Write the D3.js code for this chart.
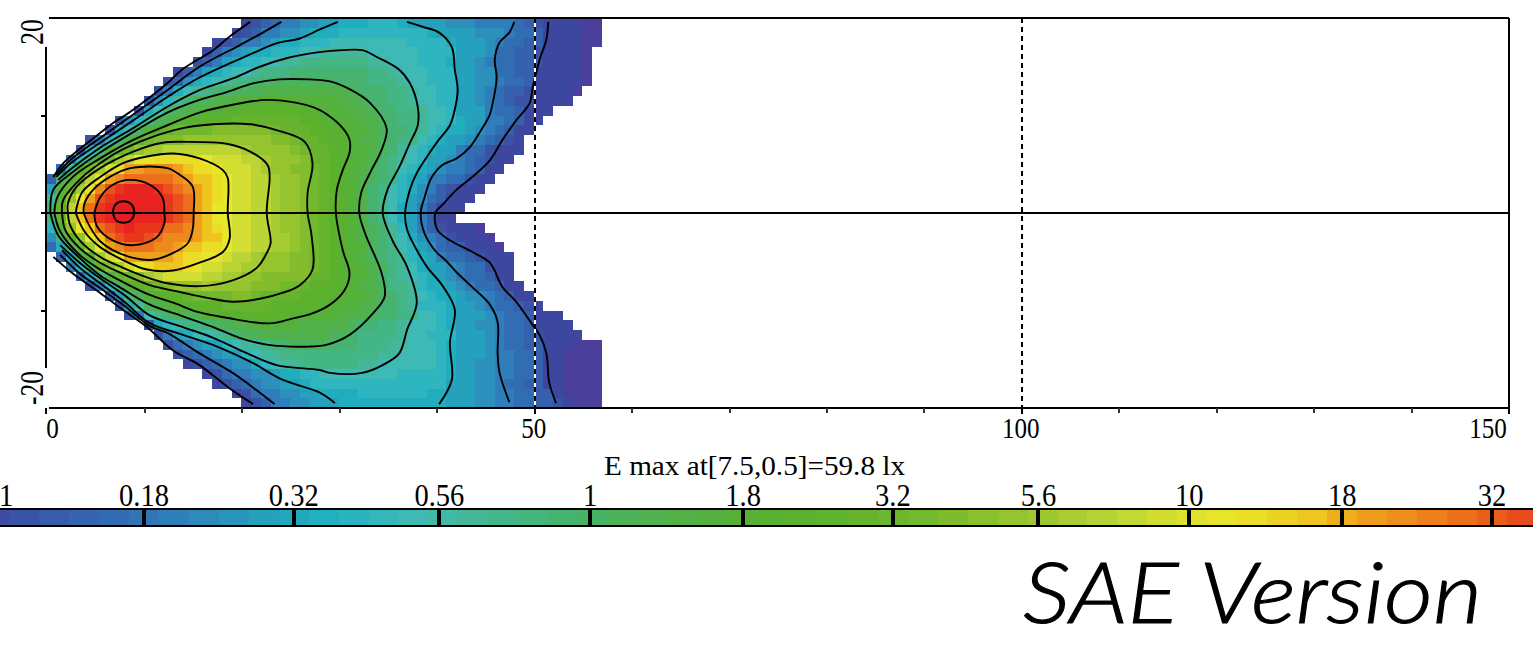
<!DOCTYPE html>
<html><head><meta charset="utf-8">
<script src="https://cdnjs.cloudflare.com/ajax/libs/d3/7.8.5/d3.min.js"></script>
<style>html,body{margin:0;padding:0;background:#fff;overflow:hidden}svg{display:block}</style>
</head><body><svg id="c" width="1533" height="647"></svg>
<script>
// level codes, lowest to highest; three per legend band, two below the first band
const levelCodes = "AB0123456789abcdefghijklmnopqrstuvwx";
const levelColors = ["#4b3f9c","#3e479f","#3a52a3","#3560ab","#316db3","#2f7dba","#2c8fbc","#25a1bd","#20aebf","#2fb5bf","#3fb9b5","#44b79b","#44b686","#46b470","#4cb35c","#51b24c","#54b13c","#58b132","#5db22d","#66b42d","#70b82d","#83bd2d","#95c42f","#a5cc33","#bcd535","#d3dd32","#e6e62a","#ebdc25","#efc41f","#ef9f1c","#ee8a1c","#ec6f1b","#e9501c","#e9351c","#e92420","#e81c20"];
// first column of each 1-unit row, top (y=20) to bottom (y=-20)
const rowStart = [20,19,17,16,15,13,12,11,10,9,7,6,4,3,2,1,0,0,0,0,0,0,0,0,1,2,3,4,6,7,8,10,11,12,13,14,16,17,19,20];
const gridRows = [
"B0123 34455 66677 76555 54443 33321 0BBBB AA",
"B 01334 45666 77777 77776 55554 44322 1BBBB AA",
"B01 33456 67778 88888 88777 76555 43221 1BBBB AA",
"B134 56677 78899 99988 88877 77555 42211 0BBBB A",
"01356 77889 9aaaa aaa99 88877 76554 32211 0BBBB A",
"B1 35678 89aaa bbbbb bbbaa 98887 77554 42211 BBBBB A",
"014 6789a abbcc ccccb bbbaa a9887 77554 43221 BBBBB A",
"0368 9abbc ccddd ddddd dcbbb aa988 77554 32110 BBBBA",
"0479b ccdde eefff eeeee ddcbb aa988 77554 32100 BBBB",
"0 68bcd deeff ggggg gffee eddcb baa98 87555 3221B BB",
"047 9cdef fgggh hhhhh hggfe eeddc baa98 87655 3321B B",
"068c efhii iijjj jjjih hhggf feedc bba98 76654 321BB",
"0 37bdg ijjjk kkkkk kkkjj ihhgf feddc baa87 65543 210B",
"07 aehik llmmm mmmmm lkkkk jihhg feedc b9876 55322 0BBB",
"27c filmo opppp ponnn mmlkk kjhhg feedb a9875 54321 0BB",
"29fi lnprr sssrq pponn nmlkk jjihg fedcb a8765 43321 BB",
"1bfim orstt tttsr qqpon nmmlk kjihg fedcb a7653 3220B B",
"5ehlp suvww wvuts rqpon nmmlk kjihg fedba 87643 10BBB",
"9gkor uvwww wwvut rqpon nmmlk kjihg fedba 87542 1BBB",
"bhmqt vwxxw wwvut rqoon nmmlk kjihg fedba 86531 BBB",
"ahmqt vwxxw wwvut rqoon nmmlk kjihg fedba 86531 BB",
"7ekoq tuvwv vvtts rqpon nmmlk kjihg fedcb 97531 0BBBA",
"4bgko qtuvv utsss rqqon nmmll kjihg fedcb 98643 20BBB A",
"26chl orstt tssrq qppon nmmll kjihg feecb a8754 211BB BA",
"16dg lnorr rrrqp poonm mlkkk jjihg fedcb a9765 32210 BBB",
"37c hjlno pqqqp onnmm llkkk jjihg ffedc a9865 54322 0BB",
"15 aehij lmnnn nmmll kkjjj jjhhg feedb a9876 54322 1BB",
"0 37ceg hijkk klkkk kjjji ihggg feddc aa976 65432 21BB",
"15ac efggh iiiij jihhh hgggf feedc ba987 66544 321BB",
"069 cdeff ggghh hhhgg gggfe eeddb ba977 76554 32210 B",
"03 8abcc defff ggggg feeee dddcb baa88 76555 43221 BBB",
"0679a abccd deeee edddd dcbba a9888 76554 43221 BBBB",
"0356 889ab ccddd ddddc cbaaa a9887 77555 43221 0BBBB",
"023 45578 99abb ccccb bbaaa 99888 76555 43221 1BBBA AA",
"01 23455 7899a aaaaa aaaa9 98888 76555 43322 1BBAA AA",
"B 01234 46789 9aaaa aa998 88888 76554 43322 1BBAA AA",
"B023 34456 67788 88888 87777 76554 43322 1BBAA AA",
"B01 23445 56777 77777 77777 75554 43221 1BBAA AA",
"B 02334 45566 66777 77776 65554 43322 11BAA AA",
"B0133 44555 66666 66666 65554 43322 110BA AA"
];
// contour lines, as [x, y] in plot units; each level may have several open pieces
const contour56 = [[[6.7,.1],[7,.9],[7.8,1.2],[8.6,.9],[8.9,.1],[8.6,-.7],[7.8,-1],[7,-.7],[6.7,.1]]];
const contour32 = [[[4.8,0],[5.4,1.6],[6.7,2.9],[8.5,3.4],[10.5,2.9],[11.8,1.6],[12,0],[12,-1],[11.2,-2.5],[8.8,-3.3],[6.7,-2.8],[5.1,-1.4],[4.8,0]]];
const contour18 = [[[3.7,0],[3.8,1],[4.7,2.4],[6.4,3.7],[8.5,4.6],[12.3,4.6],[13.6,3.9],[14.9,2.7],[15,0],[14.9,-1.7],[14.4,-3.1],[12.9,-4.1],[10.8,-4.8],[8.8,-4.6],[6.7,-3.8],[5.4,-2.9],[4.4,-1.5],[3.7,0]]];
const contour10 = [[[2.9,0],[3,.6],[3.6,2.2],[5.4,3.7],[7.7,5.1],[10.2,5.8],[12.9,6.1],[15.6,5.6],[18,4.4],[18.5,3.6],[18.5,0],[18.7,-2.6],[18,-4],[15.6,-5.1],[12.9,-5.9],[10.2,-5.8],[7.7,-4.8],[5.4,-3.5],[3.8,-1.9],[2.9,0]]];
const contour5_6 = [[[2.1,0],[2.1,1],[3,2.7],[5.4,4.6],[8.8,6.3],[11.8,7.2],[14.3,7.3],[18.4,7.1],[20.8,6.3],[22.6,4.9],[22.8,3.7],[22.5,0],[22.9,-3.1],[22.5,-4.1],[21.5,-5.6],[19,-6.9],[15.6,-7.5],[12.3,-7.2],[10.5,-6.7],[7.7,-5.6],[5.4,-4.5],[3.3,-2.8],[2.3,-1.2],[2.1,0]]];
const contour3_2 = [[[1.5,0],[1.6,1.3],[3.6,3.7],[5.4,5.1],[7.1,6.2],[10.5,7.7],[13.9,8.7],[17,9.1],[20.8,9.1],[23.5,8.5],[26.4,7.3],[27.2,5.1],[26.7,2.1],[26.7,0],[27.1,-2.3],[27.2,-5.8],[25.9,-7.4],[24.1,-8.2],[21.8,-8.8],[19,-9.1],[16.4,-8.7],[13.6,-8.1],[10.5,-7.4],[7.4,-6.1],[5.4,-5.1],[3.3,-3.6],[1.8,-1.7],[1.5,0]]];
const contour1_8 = [[[.7,0],[1,1.6],[2.6,3.7],[5.4,5.6],[8.8,7.5],[12.3,9],[15.6,10.3],[19,11.1],[22.5,11.6],[25.6,11.3],[27.4,10.8],[28.7,10.1],[30.3,8.7],[31,7.5],[31,6.2],[30.3,4.4],[29.7,2.4],[29.6,0],[30.3,-3.8],[31,-6.2],[30.5,-7.9],[29,-9.4],[26.9,-10.4],[25.2,-10.8],[23.1,-11.3],[21.1,-11.2],[18.7,-10.8],[15.6,-10.2],[12.9,-9.2],[10.5,-8.4],[7.4,-6.9],[5.4,-5.8],[3.3,-4.3],[1.3,-1.9],[.7,0]]];
const contour1 = [[[.3,0],[.6,2.4],[2.6,4.2],[5.4,6.2],[8.8,8.3],[12.3,10.3],[15.6,11.6],[18.4,12.4],[21.1,13.3],[23.8,13.7],[26.9,13.7],[29,13.5],[31,12.7],[33.1,11.3],[34.8,8.7],[34.3,6.5],[33.1,4.1],[32.2,2.1],[32,0],[32.6,-2.1],[34.3,-6.2],[34.6,-8.6],[33.4,-10.3],[31,-12.5],[28.7,-13.5],[26.9,-13.7],[22.5,-13.5],[19.7,-12.8],[17,-11.7],[13.9,-10.6],[10.5,-9.4],[7.4,-7.6],[5.4,-6.4],[3.3,-4.6],[1.1,-2.3],[.3,0]]];
const contour0_56 = [[[1.1,3.4],[2.5,4.6],[5.4,6.7],[8.8,8.7],[12.3,10.9],[15.6,12.6],[19,13.8],[21.8,15],[24.6,15.9],[27.9,16.5],[30.3,16.7],[32.3,16.7],[33.8,16],[36.1,14.7],[37.2,13.3],[38,10.9],[38,9],[37.2,7.2],[36.1,4.7],[34.9,2.4],[34.4,0],[35.4,-2.8],[36.9,-5.5],[37.9,-9.2],[36.9,-12],[36.1,-14.4],[34.4,-15.6],[32.3,-16.4],[29,-16.4],[27.9,-16.1],[23.5,-15.6],[20.5,-14.4],[17,-12.8],[13.9,-11.7],[10.5,-10.5],[8,-8.5],[5.4,-6.7],[3.3,-5.1],[1.3,-3.3]]];
const contour0_32 = [
 [[.9,3.7],[2.5,5.2],[5.4,7.2],[8.8,9.5],[12.3,11.9],[15.6,13.9],[21.1,16.4],[23.5,17.4],[25.9,17.9],[27.9,18.8],[29.8,19.6]],
 [[36.9,19.6],[38.5,19.1],[40.2,18.5],[41.5,17],[41.8,14.7],[42.1,12.6],[41.8,10.6],[41.3,9],[40,7.3],[38.9,5.7],[37.9,4.1],[37.2,2.4],[36.7,0],[36.9,-1.7],[37.9,-3.8],[39,-5.6],[40.5,-7.4],[41.8,-9.9],[41.3,-13.3],[41.5,-17.1],[40.2,-19.6]],
 [[29.5,-19.5],[27.9,-18.4],[24.1,-17.1],[21.1,-15.4],[17.4,-13.7],[13.9,-12.5],[10.5,-11.3],[8,-9.2],[5.4,-7.2],[3.3,-5.6],[1.5,-3.8]]
];
const contour0_18 = [
 [[.9,3.9],[2.3,5.4],[5.4,7.7],[8.8,10.1],[12.3,12.6],[15.6,15],[19.7,17.2],[22.1,18.5],[24,19.6]],
 [[47.9,19.6],[47.4,18.5],[46.4,17.5],[45.9,15.7],[46.1,13.9],[45.7,11.3],[45.4,10.1],[44.5,8.5],[43.3,6.7],[42,5.6],[40.5,4.9],[39.4,3.6],[38.7,1.6],[38.3,0],[38.7,-2.1],[39.9,-4],[40.8,-4.8],[42,-6.1],[43.6,-7.6],[45.4,-9.4],[46.2,-11.2],[46.2,-14.4],[46.4,-16.4],[47.4,-19.4]],
 [[23.3,-19.6],[21.5,-18.2],[19,-16.4],[15.6,-14.4],[12.3,-12.3],[10.5,-11.6],[8,-9.6],[5.4,-7.7],[3.3,-6.2],[1.3,-4.3]]
];
const contour0_1 = [
 [[.6,3.7],[1.6,5.1],[5.4,8.2],[6.7,9.2],[8.8,10.6],[12.3,13.3],[13.8,14.7],[17,16.7],[18.7,18.1],[20.8,19.6]],
 [[51.4,19.6],[51.2,17.8],[50.5,15.7],[49.8,12.9],[49.5,11.3],[48.1,9.5],[46.7,7.5],[45.4,5.4],[43.6,3.7],[42,2.4],[40.5,.8],[39.8,0],[40,-1.7],[41.3,-2.8],[43.6,-4],[45.4,-5.1],[46.7,-7.6],[48.1,-9.1],[49.8,-11.5],[50.5,-12.5],[51.2,-14.4],[51.5,-17.4],[52.2,-19.5]],
 [[.6,-4.5],[2.6,-6.2],[5.4,-8.2],[7.7,-9.9],[10.2,-11.7],[12.9,-14.1],[15.6,-15.6],[18.7,-18],[21.1,-19.6]]
];
const contourLevels = [contour56,contour32,contour18,contour10,contour5_6,contour3_2,contour1_8,contour1,contour0_56,contour0_32,contour0_18,contour0_1];
const xTicksMajor = [0,50,100,150];
const xTicksMinor = [10,20,30,40,60,70,80,90,110,120,130,140];
const yTicks = [10,0,-10];
const dashedAt = [50,100];
const legendValues = [0.18,0.32,0.56,1,1.8,3.2,5.6,10,18,32];
const legendLabels = ["0.18","0.32","0.56","1","1.8","3.2","5.6","10","18","32"];
const caption = "E max at[7.5,0.5]=59.8 lx";
const stamp = "SAE Version";

const svg = d3.select("#c");
const x = d3.scaleLinear().domain([0,150]).range([47.5,1509]);
const y = d3.scaleLinear().domain([20,-20]).range([18,408]);
const serif = "'Liberation Serif','DejaVu Serif',serif";

// cells
const colorByCode = d3.scaleOrdinal().domain(levelCodes.split("")).range(levelColors);
const cells = gridRows.flatMap((s,r)=>s.replace(/ /g,"").split("").map((code,i)=>({r,c:rowStart[r]+i,code})));
svg.append("g").attr("shape-rendering","crispEdges").selectAll("rect").data(cells).join("rect")
  .attr("x",d=>x(d.c-.1)).attr("y",d=>y(20-d.r))
  .attr("width",d=>x(d.c+.9)-x(d.c-.1)).attr("height",d=>y(19-d.r)-y(20-d.r))
  .attr("fill",d=>colorByCode(d.code));

// contours
const line = d3.line().x(d=>x(d[0])).y(d=>y(d[1])).curve(d3.curveCatmullRom.alpha(.5));
svg.append("g").selectAll("path").data(contourLevels.flat()).join("path")
  .attr("d",line).attr("fill","none").attr("stroke","#000").attr("stroke-width",1.9);

// reference lines
const frame = svg.append("g").attr("stroke","#000").attr("stroke-width",2).attr("shape-rendering","crispEdges");
dashedAt.forEach(v=>{
  frame.append("line").attr("x1",x(v)).attr("x2",x(v)).attr("y1",y(20)).attr("y2",y(-20)).attr("stroke","#fff");
  frame.append("line").attr("x1",x(v)).attr("x2",x(v)).attr("y1",y(20)).attr("y2",y(-20)).attr("stroke-dasharray","5 4");
});
frame.append("line").attr("x1",41).attr("x2",x(150)).attr("y1",y(0)).attr("y2",y(0));
frame.append("line").attr("x1",49).attr("x2",x(150)).attr("y1",y(20)).attr("y2",y(20));
frame.append("line").attr("x1",49).attr("x2",x(150)).attr("y1",y(-20)).attr("y2",y(-20));
frame.append("line").attr("x1",x(150)).attr("x2",x(150)).attr("y1",y(20)).attr("y2",y(-20));
frame.append("line").attr("x1",46).attr("x2",46).attr("y1",47).attr("y2",368);
yTicks.forEach(v=>frame.append("line").attr("x1",41).attr("x2",46).attr("y1",y(v)).attr("y2",y(v)));
xTicksMinor.forEach(v=>frame.append("line").attr("x1",x(v)).attr("x2",x(v)).attr("y1",y(-20)).attr("y2",y(-20)+5).attr("stroke","#333"));
xTicksMajor.forEach(v=>frame.append("line").attr("x1",v===0?46:x(v)).attr("x2",v===0?46:x(v)).attr("y1",y(-20)).attr("y2",y(-20)+6));

// axis labels
function label(t,px,py,size,sx,anchor){
  return svg.append("text").text(t).attr("font-family",serif).attr("font-size",size).attr("fill","#000")
    .attr("text-anchor",anchor||"middle").attr("transform",`translate(${px},${py}) scale(${sx},1)`);
}
xTicksMajor.forEach(v=>label(String(v),v===150?1488:(v===0?52.5:x(v)-1),438,29.5,.85));
[["20",32],["-20",388]].forEach(([t,py])=>svg.append("text").text(t).attr("font-family",serif).attr("font-size",34)
  .attr("text-anchor","middle").attr("fill","#000").attr("transform",`translate(43,${py}) rotate(-90) scale(.75,1)`));
svg.append("text").text(caption).attr("x",604).attr("y",475).attr("font-family",serif).attr("font-size",27)
  .attr("fill","#000").attr("textLength",301).attr("lengthAdjust","spacingAndGlyphs");

// legend: log-spaced bar; colours follow the same levels as the cells (12 levels per decade)
const legendX = d3.scaleLog().domain([0.18,32]).range([144,1492]);
const bandColor = d3.scaleLinear().domain(levelColors.map((_,i)=>(i-2+.5)/12-1)).range(levelColors).clamp(true);
const legendSteps = d3.range(-1.02,1.78,.05);
svg.append("g").attr("shape-rendering","crispEdges").selectAll("rect").data(legendSteps).join("rect")
  .attr("x",d=>legendX(10**d)).attr("width",d=>legendX(10**(d+.05))-legendX(10**d)+.5).attr("y",509).attr("height",17)
  .attr("fill",d=>bandColor(d+.025));
const leg = svg.append("g").attr("stroke","#000").attr("shape-rendering","crispEdges");
leg.append("line").attr("x1",0).attr("x2",1533).attr("y1",509).attr("y2",509).attr("stroke-width",2);
leg.append("line").attr("x1",0).attr("x2",1533).attr("y1",526).attr("y2",526).attr("stroke-width",2);
leg.selectAll("line.t").data(legendValues).join("line").attr("class","t")
  .attr("x1",d=>legendX(d)).attr("x2",d=>legendX(d)).attr("y1",509).attr("y2",526).attr("stroke-width",4);
label("1",-1,506,31,.92,"start");
legendLabels.forEach((t,i)=>label(t,legendX(legendValues[i]),506,31,.92));

// stamp
svg.append("text").text(stamp).attr("x",1023).attr("y",623).attr("font-family","Lato,'Open Sans',sans-serif")
  .attr("font-style","italic").attr("font-weight",300).attr("font-size",84).attr("fill","#000")
  .attr("stroke","#000").attr("stroke-width",1.1)
  .attr("textLength",459).attr("lengthAdjust","spacingAndGlyphs");
</script></body></html>
